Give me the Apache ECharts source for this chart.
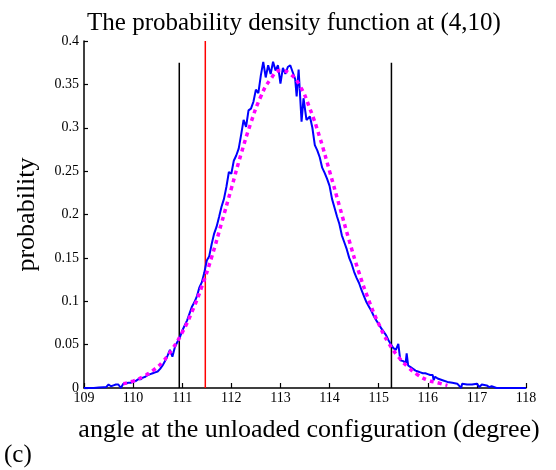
<!DOCTYPE html>
<html>
<head>
<meta charset="utf-8">
<script src="https://cdn.jsdelivr.net/npm/echarts@6/dist/echarts.min.js"></script>
<style>
  html, body { margin: 0; padding: 0; background: #fff; }
  #chart { width: 556px; height: 470px; }
</style>
</head>
<body>
<div id="chart"></div>
<script>
// measured density (blue, noisy)
const blueX = [109.0, 109.1, 109.2, 109.3, 109.4, 109.45, 109.5, 109.55, 109.6, 109.65, 109.7, 109.75,
  109.8, 109.85, 109.9, 109.95, 110.0, 110.05, 110.1, 110.15, 110.2, 110.25, 110.3, 110.35, 110.4, 110.45,
  110.5, 110.55, 110.6, 110.65, 110.7, 110.75, 110.8, 110.85, 110.9, 110.95, 111.0, 111.05, 111.1, 111.15,
  111.2, 111.25, 111.3, 111.35, 111.4, 111.45, 111.5, 111.55, 111.6, 111.65, 111.7, 111.75, 111.8, 111.85,
  111.9, 111.95, 112.0, 112.05, 112.1, 112.15, 112.2, 112.25, 112.3, 112.35, 112.4, 112.45, 112.5, 112.55,
  112.6, 112.65, 112.7, 112.75, 112.8, 112.85, 112.9, 112.95, 113.0, 113.05, 113.1, 113.15, 113.2, 113.25,
  113.3, 113.33, 113.37, 113.43, 113.47, 113.5, 113.53, 113.6, 113.65, 113.7, 113.75, 113.8, 113.85, 113.9,
  113.95, 114.0, 114.05, 114.1, 114.15, 114.2, 114.25, 114.3, 114.35, 114.4, 114.45, 114.5, 114.55, 114.6,
  114.65, 114.7, 114.75, 114.8, 114.85, 114.9, 114.95, 115.0, 115.05, 115.1, 115.15, 115.2, 115.25, 115.3,
  115.35, 115.4, 115.44, 115.5, 115.55, 115.57, 115.6, 115.65, 115.7, 115.75, 115.8, 115.85, 115.9, 115.95,
  116.0, 116.05, 116.1, 116.12, 116.15, 116.2, 116.3, 116.4, 116.5, 116.6, 116.68, 116.7, 116.8, 116.9,
  117.0, 117.05, 117.1, 117.2, 117.25, 117.3, 117.4, 117.5, 118.0];
const blueY = [0, 0, 0, 0.0005, 0.001, 0.001, 0.004, 0.002, 0.003, 0.004, 0.004, 0.000,
  0.005, 0.005, 0.006, 0.006, 0.007, 0.008, 0.010, 0.010, 0.012, 0.013, 0.015, 0.016, 0.017, 0.018,
  0.019, 0.022, 0.026, 0.031, 0.037, 0.044, 0.036, 0.047, 0.053, 0.058, 0.066, 0.072, 0.078, 0.086,
  0.094, 0.099, 0.106, 0.116, 0.122, 0.133, 0.147, 0.152, 0.166, 0.178, 0.186, 0.197, 0.209, 0.218,
  0.232, 0.249, 0.247, 0.262, 0.268, 0.276, 0.292, 0.309, 0.301, 0.320, 0.322, 0.330, 0.344, 0.340,
  0.360, 0.376, 0.358, 0.372, 0.362, 0.376, 0.366, 0.372, 0.351, 0.369, 0.362, 0.370, 0.372, 0.364,
  0.356, 0.336, 0.367, 0.307, 0.334, 0.332, 0.309, 0.313, 0.300, 0.280, 0.274, 0.266, 0.254, 0.248,
  0.241, 0.233, 0.218, 0.208, 0.198, 0.189, 0.176, 0.168, 0.160, 0.150, 0.143, 0.134, 0.127, 0.121,
  0.113, 0.106, 0.099, 0.094, 0.089, 0.083, 0.078, 0.074, 0.069, 0.065, 0.061, 0.055, 0.050, 0.046,
  0.044, 0.051, 0.032, 0.031, 0.029, 0.040, 0.026, 0.024, 0.022, 0.020, 0.019, 0.018, 0.017, 0.017,
  0.016, 0.015, 0.015, 0.009, 0.013, 0.011, 0.009, 0.007, 0.006, 0.005, 0.000, 0.005, 0.004, 0.004,
  0.005, 0.001, 0.004, 0.003, 0.001, 0.002, 0.000, 0, 0];

// fitted curve (magenta, dotted)
const fitX = [109.8, 110.0, 110.2, 110.4, 110.6, 110.8, 111.0, 111.2, 111.4, 111.6, 111.8, 112.0, 112.2,
  112.4, 112.6, 112.8, 113.0, 113.2, 113.4, 113.6, 113.8, 114.0, 114.2, 114.4, 114.6, 114.8, 115.0, 115.2,
  115.4, 115.6, 115.8, 116.0, 116.2, 116.4];
const fitY = [0.005, 0.008, 0.013, 0.020, 0.030, 0.045, 0.064, 0.088, 0.117, 0.151, 0.190, 0.230, 0.270,
  0.306, 0.336, 0.356, 0.366, 0.362, 0.348, 0.322, 0.289, 0.250, 0.210, 0.170, 0.133, 0.101, 0.074, 0.052,
  0.036, 0.024, 0.015, 0.009, 0.006, 0.003];

// vertical markers
const boundX = [110.94, 115.26];
const boundTop = 0.375;
const refX = 111.47;
const refTop = 0.4;

const xTicks = [109, 110, 111, 112, 113, 114, 115, 116, 117, 118];

const serif = 'Liberation Serif';
const chart = echarts.init(document.getElementById('chart'));

const zip = (xs, ys) => xs.map((x, i) => [x, ys[i]]);

chart.setOption({
  animation: false,
  backgroundColor: '#fff',
  title: {
    text: 'The probability density function at (4,10)',
    left: 289, top: 6, textAlign: 'center',
    textStyle: { fontFamily: serif, fontSize: 25, fontWeight: 'normal', color: '#000' }
  },
  grid: { left: 84, right: 30, top: 41, bottom: 82 },
  xAxis: {
    type: 'value', min: xTicks[0], max: xTicks[xTicks.length - 1], interval: 1,
    name: 'angle at the unloaded configuration (degree)',
    nameLocation: 'middle', nameGap: 29,
    nameTextStyle: { fontFamily: serif, fontSize: 26, color: '#000', padding: [0, 0, 0, 8] },
    axisLine: { lineStyle: { color: '#000', width: 1.5 } },
    axisTick: { inside: true, length: 5, lineStyle: { color: '#000', width: 1.2 } },
    axisLabel: { fontFamily: serif, fontSize: 14, color: '#000', margin: 3 },
    splitLine: { show: false }
  },
  yAxis: {
    type: 'value', min: 0, max: 0.4, interval: 0.05,
    name: 'probability', nameLocation: 'middle', nameGap: 44,
    nameTextStyle: { fontFamily: serif, fontSize: 26, color: '#000' },
    axisLine: { show: true, lineStyle: { color: '#000', width: 1.5 } },
    axisTick: { show: true, inside: true, length: 4, lineStyle: { color: '#000', width: 1.2 } },
    axisLabel: { fontFamily: serif, fontSize: 14, color: '#000', margin: 5 },
    splitLine: { show: false }
  },
  graphic: [{
    type: 'text', left: 4, top: 443,
    style: { text: '(c)', font: '25px "Liberation Serif"', fill: '#000' }
  }],
  series: [
    {
      type: 'line', data: zip(blueX, blueY), showSymbol: false,
      lineStyle: { color: '#0000ff', width: 2 }, z: 3
    },
    {
      type: 'line', data: zip(fitX, fitY), showSymbol: false, smooth: true,
      lineStyle: { color: '#ff00ff', width: 3.5, type: [4, 4] }, z: 4
    },
    ...boundX.map(x => ({
      type: 'line', data: [[x, 0], [x, boundTop]], showSymbol: false,
      lineStyle: { color: '#000', width: 1.5 }, z: 2
    })),
    {
      type: 'line', data: [[refX, 0], [refX, refTop]], showSymbol: false,
      lineStyle: { color: '#ff0000', width: 1.5 }, z: 2
    }
  ]
});
</script>
</body>
</html>
